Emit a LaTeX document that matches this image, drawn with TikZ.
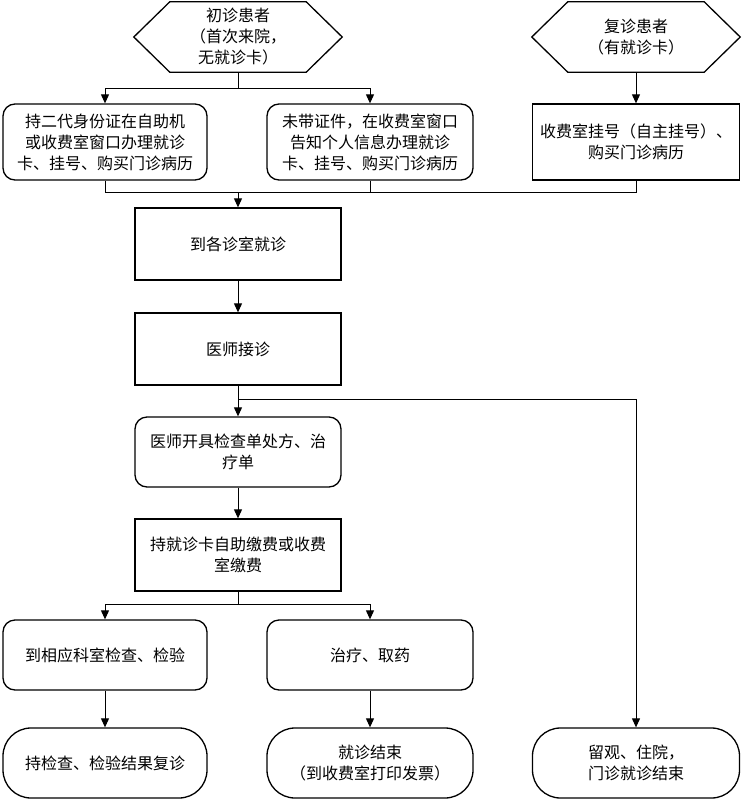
\documentclass[tikz,border=0pt]{standalone}
\usepackage{fontspec}
\newfontfamily\cjk{Noto Sans CJK SC}
\usetikzlibrary{arrows.meta}
\begin{document}
\begin{tikzpicture}[x=1pt,y=-1pt,
 every node/.style={font=\cjk\fontsize{16}{21}\selectfont, align=center, inner sep=0pt},
 box/.style={draw, line width=1.3pt, minimum width=206pt, minimum height=72pt},
 rbox/.style={box, rounded corners=12pt},
 stad/.style={box, rounded corners=28pt},
 hexn/.style={minimum width=208pt, minimum height=70pt},
 hex/.style={line width=1.3pt},
 arr/.style={line width=1pt, -{Triangle[length=9pt,width=8pt]}},
 ln/.style={line width=1pt}]
\useasboundingbox (0,0) rectangle (742,800);
% top
\node[hexn] (h1) at (238,37) {初诊患者\\（首次来院，\\无就诊卡）};
\node[hexn] (h2) at (636,37) {复诊患者\\（有就诊卡）};
\foreach \h in {h1,h2}{
 \draw[hex] (\h.west) -- ([xshift=36pt]\h.north west) -- ([xshift=-36pt]\h.north east) -- (\h.east) -- ([xshift=-36pt]\h.south east) -- ([xshift=36pt]\h.south west) -- cycle;
}
\node[rbox, minimum width=204pt, minimum height=76pt] (b1) at (105,142) {持二代身份证在自助机\\或收费室窗口办理就诊\\卡、挂号、购买门诊病历};
\node[rbox, minimum width=206pt, minimum height=76pt] (b2) at (370,142) {未带证件，在收费室窗口\\告知个人信息办理就诊\\卡、挂号、购买门诊病历};
\node[box, minimum width=207pt, minimum height=76pt] (b3) at (636,142) {收费室挂号（自主挂号）、\\购买门诊病历};
% middle
\node[box] (c1) at (238,244) {到各诊室就诊};
\node[box] (c2) at (238,349) {医师接诊};
\node[rbox, minimum height=70pt] (c3) at (238,452) {医师开具检查单处方、治\\疗单};
\node[box] (c4) at (238,555) {持就诊卡自助缴费或收费\\室缴费};
% bottom
\node[rbox, minimum width=204pt, minimum height=70pt] (d1) at (105,655) {到相应科室检查、检验};
\node[rbox, minimum height=70pt] (d2) at (370,655) {治疗、取药};
\node[stad, minimum width=204pt, minimum height=70pt] (e1) at (105,763) {持检查、检验结果复诊};
\node[stad, minimum height=70pt] (e2) at (370,763) {就诊结束\\（到收费室打印发票）};
\node[stad, minimum width=207pt, minimum height=70pt] (e3) at (636,763) {留观、住院，\\门诊就诊结束};
% connectors
\coordinate (f1) at (238,88);
\draw[ln] (h1.south) -- (f1);
\draw[arr] (f1) -| (b1.north);
\draw[arr] (f1) -| (b2.north);
\draw[arr] (h2.south) -- (b3.north);
\coordinate (bus) at (238,192);
\draw[ln] (b1.south) |- (bus);
\draw[ln] (b2.south) |- (bus);
\draw[ln] (b3.south) |- (bus);
\draw[arr] (bus) -- (c1.north);
\draw[arr] (c1) -- (c2);
\coordinate (f2) at (238,399);
\draw[ln] (c2.south) -- (f2);
\draw[arr] (f2) -- (c3.north);
\draw[arr] (f2) -| (e3.north);
\draw[arr] (c3) -- (c4);
\coordinate (f3) at (238,604);
\draw[ln] (c4.south) -- (f3);
\draw[arr] (f3) -| (d1.north);
\draw[arr] (f3) -| (d2.north);
\draw[arr] (d1) -- (e1);
\draw[arr] (d2) -- (e2);
\end{tikzpicture}
\end{document}
